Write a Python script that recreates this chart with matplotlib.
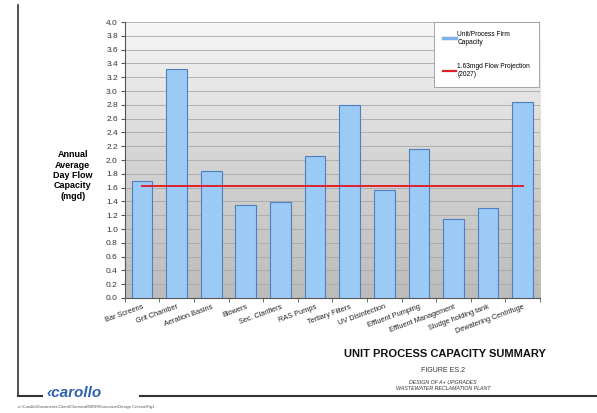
import numpy as np
import matplotlib
matplotlib.use("Agg")
import matplotlib.pyplot as plt
from matplotlib.colors import LinearSegmentedColormap
from matplotlib.lines import Line2D

plt.rcParams['font.family'] = ['Liberation Sans', 'DejaVu Sans']

categories = ['Bar Screens', 'Grit Chamber', 'Aeration Basins', 'Blowers',
              'Sec. Clarifiers', 'RAS Pumps', 'Tertiary Filters', 'UV Disinfection',
              'Effluent Pumping', 'Effluent Management', 'Sludge holding tank',
              'Dewatering Centrifuge']
capacity = [1.69, 3.32, 1.84, 1.35, 1.39, 2.06, 2.80, 1.56, 2.16, 1.15, 1.30, 2.84]
projection = 1.63
yticks = np.arange(0, 4.01, 0.2)

fig = plt.figure(figsize=(5.97, 4.13), dpi=100)
ax = fig.add_axes([0.209, 0.2785, 0.6955, 0.668])

# gray gradient background of the plot area
grad = LinearSegmentedColormap.from_list('g', ['#bcbcbc', '#d4d4d4', '#f7f7f7'])
ax.imshow(np.linspace(0, 1, 256).reshape(-1, 1), cmap=grad, aspect='auto',
          extent=[-0.5, 11.5, 0, 4.0], origin='lower', zorder=0)

x = np.arange(len(categories))
ax.bar(x, capacity, width=0.6, color='#9ccaf7', edgecolor='#4f7fbf',
       linewidth=0.8, zorder=3)
ax.plot([x[0], x[-1]], [projection, projection], color='#e0202a', lw=1.4, zorder=4)

ax.set_xlim(-0.5, 11.5)
ax.set_ylim(0, 4.0)
ax.set_yticks(yticks)
ax.set_yticklabels(['%.1f' % v for v in yticks], fontsize=6, color='#333333')
ax.yaxis.grid(True, color='#a8a8a8', lw=0.6, zorder=1)

ax.set_xticks(x)
ax.set_xticklabels(categories, rotation=20, ha='right', va='top',
                   rotation_mode='anchor', fontsize=5.3, color='#222222')
ax.tick_params(axis='x', length=0, pad=4)
ax.set_xticks(np.arange(-0.5, 12, 1), minor=True)
ax.tick_params(axis='x', which='minor', length=3, color='#555555')
ax.tick_params(axis='y', length=3, color='#555555', pad=2)

for s in ['top', 'right']:
    ax.spines[s].set_visible(False)
ax.spines['left'].set_color('#555555')
ax.spines['bottom'].set_color('#555555')

handles = [Line2D([], [], color='#7fb2e5', lw=2.5),
           Line2D([], [], color='#e0202a', lw=1.6)]
labels = ['Unit/Process Firm\nCapacity', '1.63mgd Flow Projection\n(2027)']
leg = ax.legend(handles, labels, loc='upper right', bbox_to_anchor=(0.997, 1.0),
                fontsize=4.8, frameon=True, fancybox=False, labelspacing=2.6,
                handlelength=2.0, borderpad=1.3, handletextpad=0.2, borderaxespad=0)
leg.get_frame().set_edgecolor('#999999')
leg.get_frame().set_linewidth(0.6)
leg.get_frame().set_alpha(1)

fig.text(0.122, 0.575, 'Annual\nAverage\nDay Flow\nCapacity\n(mgd)', ha='center',
         va='center', fontsize=6.5, fontweight='bold', linespacing=1.2)

fig.text(0.745, 1 - 354 / 413, 'UNIT PROCESS CAPACITY SUMMARY', ha='center',
         va='center', fontsize=8, fontweight='bold', color='#111111')
fig.text(0.742, 1 - 370 / 413, 'FIGURE ES.2', ha='center', va='center',
         fontsize=5, color='#333333')
fig.text(0.742, 1 - 382 / 413, 'DESIGN OF A+ UPGRADES', ha='center', va='center',
         fontsize=3.8, style='italic', color='#333333')
fig.text(0.742, 1 - 388 / 413, 'WASTEWATER RECLAMATION PLANT', ha='center',
         va='center', fontsize=3.8, style='italic', color='#333333')

# page frame
fig.add_artist(Line2D([18 / 597, 18 / 597], [1 - 5 / 413, 1 - 396 / 413],
                      transform=fig.transFigure, color='#333333', lw=1.2))
fig.add_artist(Line2D([18 / 597, 42 / 597], [1 - 396 / 413] * 2,
                      transform=fig.transFigure, color='#333333', lw=1.5))
fig.add_artist(Line2D([140 / 597, 1.0], [1 - 396 / 413] * 2,
                      transform=fig.transFigure, color='#333333', lw=1.5))
fig.text(46 / 597, 1 - 393 / 413, '\u2039carollo', ha='left', va='center',
         fontsize=11, fontweight='bold', style='italic', color='#2f62b0')
fig.text(18 / 597, 1 - 407 / 413,
         'n:\\Carollo\\Documents\\Client\\Chemical\\WRR\\Executive\\Design Criteria\\Fig1',
         ha='left', va='center', fontsize=3, color='#555555')

fig.savefig('out.png', dpi=100)
